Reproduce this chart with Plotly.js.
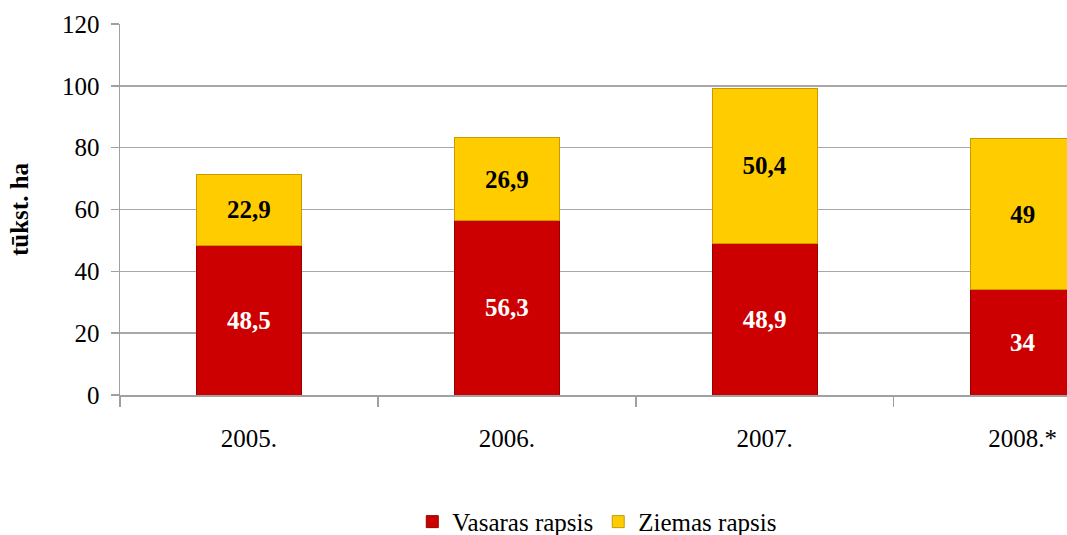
<!DOCTYPE html>
<html>
<head>
<meta charset="utf-8">
<script src="https://cdn.plot.ly/plotly-3.0.1.min.js"></script>
<style>html,body{margin:0;padding:0;background:#fff;}#chart{width:1067px;height:535px;}</style>
</head>
<body>
<div id="chart"></div>
<script>
var years = ['2005.', '2006.', '2007.', '2008.*'];
var vasaras = [48.5, 56.3, 48.9, 34];
var ziemas = [22.9, 26.9, 50.4, 49];
var yTicks = [0, 20, 40, 60, 80, 100, 120];

function fmt(arr) { return arr.map(function (v) { return String(v).replace('.', ','); }); }

var font = '"Liberation Serif", "Times New Roman", Times, serif';

var traces = [
  {
    type: 'bar', name: 'Vasaras rapsis', x: years, y: vasaras,
    text: fmt(vasaras), textposition: 'inside', insidetextanchor: 'middle',
    textfont: {family: font, size: 25, color: '#ffffff', weight: 'bold'},
    marker: {color: '#CC0000', line: {color: '#9a0000', width: 1}},
    hoverinfo: 'none'
  },
  {
    type: 'bar', name: 'Ziemas rapsis', x: years, y: ziemas,
    text: fmt(ziemas), textposition: 'inside', insidetextanchor: 'middle',
    textfont: {family: font, size: 25, color: '#000000', weight: 'bold'},
    marker: {color: '#FFCC00', line: {color: '#c89a00', width: 1}},
    hoverinfo: 'none'
  }
];

var layout = {
  width: 1067, height: 535,
  margin: {l: 120, r: 0, t: 24, b: 140, pad: 0, autoexpand: false},
  barmode: 'stack',
  bargap: 0.593,
  paper_bgcolor: '#ffffff', plot_bgcolor: '#ffffff',
  font: {family: font, size: 25, color: '#000000'},
  showlegend: true,
  legend: {
    orientation: 'h', traceorder: 'normal',
    x: 0.504, xanchor: 'center', y: -0.342, yanchor: 'middle',
    font: {family: font, size: 25, color: '#000000'},
    itemwidth: 30, tracegroupgap: 0
  },
  xaxis: {
    type: 'category', range: [-0.5, 3.172], fixedrange: true, automargin: false,
    showline: true, linecolor: '#a0a0a0', linewidth: 1.5,
    ticks: 'outside', ticklen: 10, tickcolor: '#a0a0a0', tickwidth: 1.5,
    tickson: 'boundaries', showgrid: false,
    ticklabelstandoff: 20,
    tickfont: {family: font, size: 25, color: '#000000'}
  },
  yaxis: {
    range: [0, 120], tickvals: yTicks, ticktext: yTicks.map(String), fixedrange: true, automargin: false,
    showline: true, linecolor: '#a0a0a0', linewidth: 1.5,
    ticks: 'outside', ticklen: 8, tickcolor: '#a0a0a0', tickwidth: 1.5,
    showgrid: true, gridcolor: '#a8a8a8', gridwidth: 1.5,
    zeroline: false,
    ticklabelstandoff: 6,
    tickfont: {family: font, size: 25, color: '#000000'},
    title: {text: '<b>tūkst. ha</b>', font: {family: font, size: 25, color: '#000000'}, standoff: 26}
  }
};

Plotly.newPlot('chart', traces, layout, {displayModeBar: false, staticPlot: true});
</script>
</body>
</html>
